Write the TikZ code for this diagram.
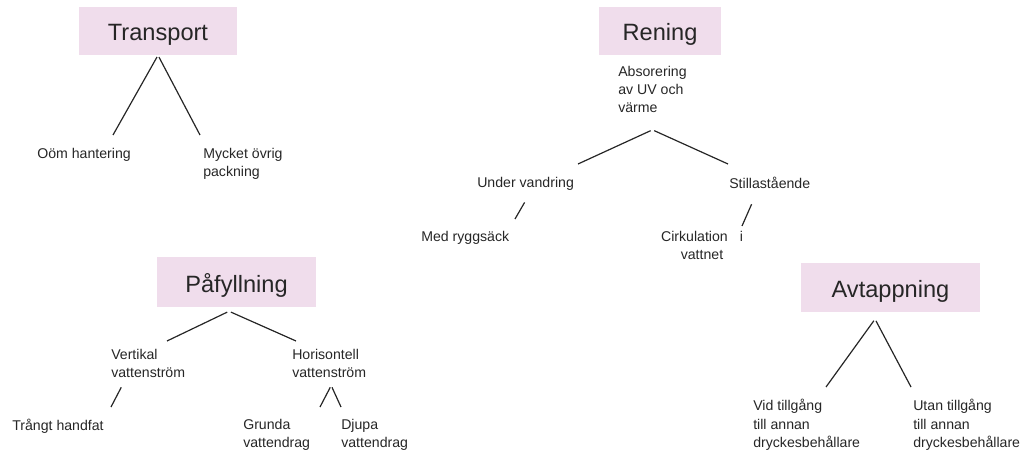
\documentclass[tikz,border=0pt]{standalone}
\usepackage{fontspec}
\setmainfont{Liberation Sans}
\usepackage{tikz}
\usetikzlibrary{positioning}
\definecolor{boxpink}{HTML}{F0DDEC}
\definecolor{ink}{HTML}{262626}

\begin{document}
\begin{tikzpicture}[
  x=0.75pt, y=-0.75pt,
  title/.style={rectangle, fill=boxpink, inner sep=0pt, text height=15pt, text depth=0pt, font=\fontsize{17.7}{21}\selectfont, text=ink},
  leaf/.style={anchor=north west, inner sep=0pt, align=left, font=\fontsize{10.6}{13.2}\selectfont, text=ink},
  branch/.style={line width=0.9pt, draw=ink, shorten <=1.5pt}
]
\useasboundingbox (0,0) rectangle (1027,452);

% headings
\node[title, minimum width=118.5pt, minimum height=36pt] (tr) at (158,31) {Transport};
\node[title, minimum width=91.5pt, minimum height=36pt] (ren) at (660,31) {Rening};
\node[title, minimum width=119pt, minimum height=37.5pt] (paf) at (236.5,282) {Påfyllning};
\node[title, minimum width=134pt, minimum height=37pt] (avt) at (890.5,287.5) {Avtappning};

% Transport
\node[leaf] (oom) at (37,148) {Oöm hantering};
\node[leaf] (myck) at (203,148) {Mycket övrig\\packning};
% Rening
\node[leaf, font=\fontsize{10.6}{13.6}\selectfont] (abs) at (618,66) {Absorering\\av UV och\\värme};
\node[leaf] (under) at (477,177) {Under vandring};
\node[leaf] (still) at (729,177) {Stillastående};
\node[leaf] (med) at (421,231) {Med ryggsäck};
\node[leaf, anchor=north, align=center] (cirk) at (702,231) {Cirkulation\hspace{9pt}i\\vattnet};
% Påfyllning
\node[leaf] (vert) at (111,349) {Vertikal\\vattenström};
\node[leaf] (hori) at (292,349) {Horisontell\\vattenström};
\node[leaf] (trangt) at (12,419) {Trångt handfat};
\node[leaf] (grunda) at (243,419) {Grunda\\vattendrag};
\node[leaf] (djupa) at (341,419) {Djupa\\vattendrag};
% Avtappning
\node[leaf, font=\fontsize{10.6}{13.8}\selectfont] (vid) at (753,399) {Vid tillgång\\till annan\\dryckesbehållare};
\node[leaf, font=\fontsize{10.6}{13.8}\selectfont] (utan) at (913,399) {Utan tillgång\\till annan\\dryckesbehållare};

% free ends of the branches
\coordinate (oomT) at (113,135);
\coordinate (myckT) at (200,135);
\coordinate (underT) at (578,164);
\coordinate (stillT) at (728,164);
\coordinate (medT) at (515,219);
\coordinate (cirkT) at (742,226);
\coordinate (vertT) at (167,341);
\coordinate (horiT) at (296,341);
\coordinate (trangtT) at (111,407);
\coordinate (grundaT) at (320,407);
\coordinate (djupaT) at (341,407);
\coordinate (vidT) at (826,387);
\coordinate (utanT) at (911,387);

\draw[branch] (tr.south) -- (oomT);
\draw[branch] (tr.south) -- (myckT);
\draw[branch] ([yshift=-12.5pt]abs.south) -- (underT);
\draw[branch] ([yshift=-12.5pt]abs.south) -- (stillT);
\draw[branch] ([yshift=-7.5pt]under.south) -- (medT);
\draw[branch] ([xshift=-13pt,yshift=-10pt]still.south) -- (cirkT);
\draw[branch] ([xshift=-5.6pt,yshift=-3pt]paf.south) -- (vertT);
\draw[branch] ([xshift=-5.6pt,yshift=-3pt]paf.south) -- (horiT);
\draw[branch] ([xshift=-19.5pt,yshift=-6pt]vert.south) -- (trangtT);
\draw[branch] ([xshift=1.5pt,yshift=-6pt]hori.south) -- (grundaT);
\draw[branch] ([xshift=1.5pt,yshift=-6pt]hori.south) -- (djupaT);
\draw[branch] ([xshift=-11.6pt,yshift=-5pt]avt.south) -- (vidT);
\draw[branch] ([xshift=-11.6pt,yshift=-5pt]avt.south) -- (utanT);
\end{tikzpicture}
\end{document}
